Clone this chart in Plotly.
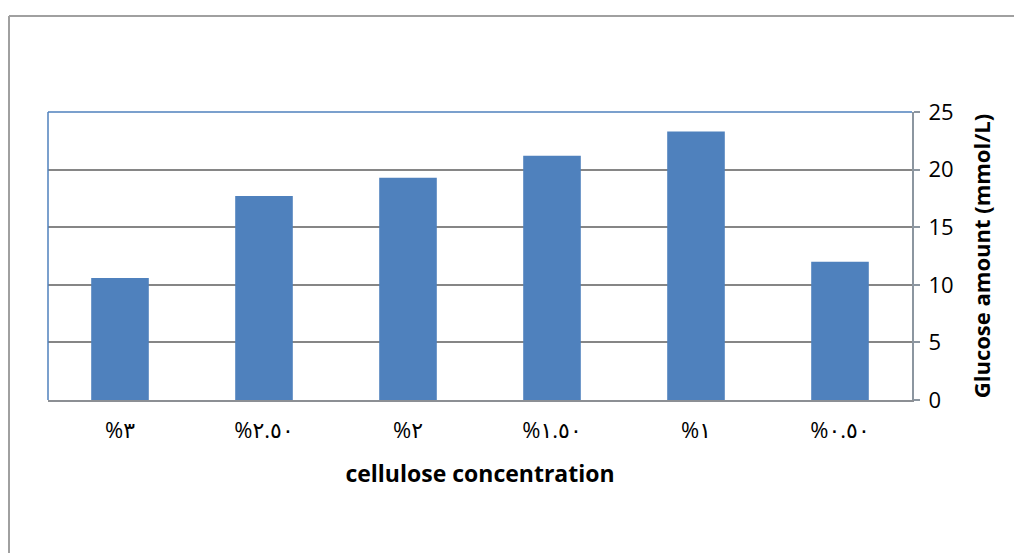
import plotly.graph_objects as go

categories = ["%٣", "%٢.٥٠", "%٢", "%١.٥٠", "%١", "%٠.٥٠"]
glucose = [10.6, 17.7, 19.3, 21.2, 23.3, 12.0]
y_ticks = [0, 5, 10, 15, 20, 25]

W, H = 1022, 553
OFF = 8  # page body margin
L, T = 48 - OFF, 112 - OFF
R, B = 110 + OFF, 153 + OFF
pw, ph = W - L - R, H - T - B

def px_x(x):
    return (x - OFF - L) / pw

def px_y(y):
    return (H - B - (y - OFF)) / ph

fig = go.Figure(go.Bar(
    x=categories, y=glucose, marker_color="#4f81bd",
    marker_line_width=0, width=0.4,
))

fig.update_layout(
    width=W, height=H,
    margin=dict(l=L, r=R, t=T, b=B),
    paper_bgcolor="white", plot_bgcolor="white",
    font=dict(family="Open Sans, DejaVu Sans, sans-serif", color="#000"),
    showlegend=False,
    xaxis=dict(
        showgrid=False, showline=True, linecolor="#8c8f94", linewidth=2,
        tickfont=dict(size=22, family="Open Sans, DejaVu Sans, sans-serif"),
        ticks="", ticklabelstandoff=10,
        title=dict(text="<b>cellulose concentration</b>",
                   font=dict(size=23, family="Open Sans, sans-serif"), standoff=22),
    ),
    yaxis=dict(
        side="right", range=[0, 25], tickvals=y_ticks,
        showgrid=True, gridcolor="#868686", gridwidth=1.5,
        showline=True, linecolor="#8c96a0", linewidth=2,
        ticks="outside", ticklen=6, tickcolor="#8c96a0", tickwidth=1.5,
        tickfont=dict(size=22, family="Open Sans, sans-serif"),
        ticklabelstandoff=4,
        zeroline=False,
        title=dict(text="<b>Glucose amount (mmol/L)</b>",
                   font=dict(size=22, family="Open Sans, sans-serif"), standoff=22),
    ),
    shapes=[
        dict(type="line", xref="paper", yref="paper",
             x0=px_x(9), x1=px_x(1040), y0=px_y(16), y1=px_y(16),
             line=dict(color="#a0a0a0", width=2)),
        dict(type="line", xref="paper", yref="paper",
             x0=px_x(9), x1=px_x(9), y0=px_y(16), y1=px_y(570),
             line=dict(color="#a0a0a0", width=2)),
        dict(type="line", xref="paper", yref="paper",
             x0=0, x1=1, y0=1, y1=1, line=dict(color="#4f81bd", width=1.5)),
        dict(type="line", xref="paper", yref="paper",
             x0=0, x1=0, y0=0, y1=1, line=dict(color="#4f81bd", width=1.5)),
    ],
)

fig.write_html("out.html")
